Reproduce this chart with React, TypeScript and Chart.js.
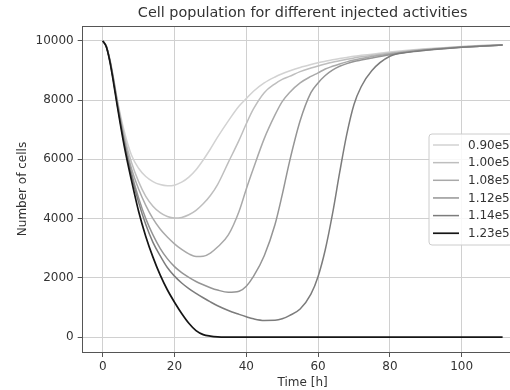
import React, { useEffect, useRef } from "react";
import { Chart, registerables } from "chart.js";

Chart.register(...registerables);

const TITLE = "Cell population for different injected activities";
const X_TITLE = "Time [h]";
const Y_TITLE = "Number of cells";

const TIMES = [0, 1, 2, 3, 4, 6, 8, 10, 12, 14, 16, 18, 20, 22, 24, 26, 28, 30, 32, 35, 38, 40, 42, 45, 48, 50, 52, 55, 58, 60, 62, 64, 66, 68, 70, 72, 75, 80, 85, 90, 95, 100, 105, 111.4];

const LABELS = ["0.90e5", "1.00e5", "1.08e5", "1.12e5", "1.14e5", "1.23e5"];

const S_090 = [10000, 9830, 9390, 8760, 8060, 6950, 6150, 5700, 5420, 5250, 5150, 5110, 5130, 5230, 5400, 5650, 5980, 6350, 6750, 7300, 7800, 8050, 8300, 8580, 8780, 8890, 8980, 9100, 9200, 9260, 9310, 9360, 9400, 9440, 9480, 9510, 9550, 9620, 9680, 9730, 9770, 9810, 9840, 9870];
const S_100 = [10000, 9820, 9360, 8730, 8020, 6800, 5900, 5250, 4750, 4420, 4200, 4070, 4020, 4040, 4130, 4280, 4500, 4780, 5150, 5900, 6650, 7200, 7700, 8250, 8550, 8700, 8800, 8960, 9080, 9150, 9220, 9280, 9330, 9380, 9420, 9460, 9510, 9590, 9660, 9715, 9760, 9800, 9830, 9865];
const S_108 = [10000, 9815, 9340, 8700, 7980, 6700, 5700, 5000, 4450, 4000, 3650, 3380, 3150, 2960, 2810, 2720, 2730, 2840, 3040, 3450, 4250, 5000, 5700, 6700, 7500, 7950, 8250, 8580, 8800, 8920, 9050, 9140, 9220, 9290, 9350, 9400, 9470, 9560, 9640, 9700, 9750, 9790, 9825, 9860];
const S_112 = [10000, 9810, 9330, 8680, 7950, 6620, 5550, 4700, 4000, 3450, 3000, 2650, 2380, 2180, 2020, 1880, 1770, 1670, 1590, 1515, 1550, 1720, 2050, 2750, 3800, 4800, 5900, 7300, 8250, 8580, 8830, 9010, 9140, 9230, 9300, 9350, 9420, 9530, 9625, 9690, 9740, 9785, 9820, 9858];
const S_114 = [10000, 9810, 9320, 8650, 7900, 6550, 5450, 4550, 3800, 3200, 2750, 2350, 2060, 1830, 1640, 1480, 1330, 1190, 1060, 900, 770, 690, 620, 565, 570, 620, 730, 950, 1450, 2050, 2950, 4150, 5550, 6850, 7850, 8450, 9000, 9480, 9610, 9680, 9735, 9780, 9815, 9855];
const S_123 = [10000, 9800, 9300, 8600, 7850, 6450, 5300, 4250, 3400, 2700, 2100, 1600, 1180, 800, 470, 220, 85, 35, 12, 3, 1, 0, 0, 0, 0, 0, 0, 0, 0, 0, 0, 0, 0, 0, 0, 0, 0, 0, 0, 0, 0, 0, 0, 0];

const SERIES = [S_090, S_100, S_108, S_112, S_114, S_123];
const COLORS = ["#d2d2d2", "#bebebe", "#a9a9a9", "#959595", "#7c7c7c", "#151515"];
const WIDTHS = [1.5, 1.5, 1.5, 1.5, 1.5, 1.7];

const X_TICKS = [0, 20, 40, 60, 80, 100];
const Y_TICKS = [0, 2000, 4000, 6000, 8000, 10000];

const FONT = "'DejaVu Sans', sans-serif";
const TEXT = "#333333";
const SPINE = "#555555";
const GRID = "#d0d0d0";

const overlay = {
  id: "overlay",
  afterDraw(chart: any) {
    const { ctx, chartArea } = chart;
    ctx.save();
    // top spine
    ctx.strokeStyle = SPINE;
    ctx.lineWidth = 1;
    ctx.beginPath();
    ctx.moveTo(chartArea.left, Math.round(chartArea.top) + 0.5);
    ctx.lineTo(chartArea.right, Math.round(chartArea.top) + 0.5);
    ctx.stroke();
    // title
    ctx.fillStyle = TEXT;
    ctx.font = `14.4px ${FONT}`;
    ctx.textAlign = "center";
    ctx.textBaseline = "middle";
    ctx.fillText(TITLE, (chartArea.left + chartArea.right) / 2, 13);
    // legend
    const bx = 429, by = 134, bw = 88, bh = 111, r = 3;
    ctx.beginPath();
    ctx.moveTo(bx + r, by);
    ctx.lineTo(bx + bw - r, by);
    ctx.arcTo(bx + bw, by, bx + bw, by + r, r);
    ctx.lineTo(bx + bw, by + bh - r);
    ctx.arcTo(bx + bw, by + bh, bx + bw - r, by + bh, r);
    ctx.lineTo(bx + r, by + bh);
    ctx.arcTo(bx, by + bh, bx, by + bh - r, r);
    ctx.lineTo(bx, by + r);
    ctx.arcTo(bx, by, bx + r, by, r);
    ctx.closePath();
    ctx.fillStyle = "rgba(255,255,255,0.85)";
    ctx.fill();
    ctx.strokeStyle = "#cccccc";
    ctx.stroke();
    ctx.font = `12px ${FONT}`;
    ctx.textAlign = "left";
    ctx.textBaseline = "middle";
    chart.data.datasets.forEach((ds: any, i: number) => {
      const y = 145 + i * 17.65;
      ctx.strokeStyle = ds.borderColor;
      ctx.lineWidth = ds.borderWidth;
      ctx.beginPath();
      ctx.moveTo(433, y);
      ctx.lineTo(459, y);
      ctx.stroke();
      ctx.fillStyle = TEXT;
      ctx.fillText(ds.label, 468, y + 0.5);
    });
    ctx.restore();
  },
};

export default function App() {
  const ref = useRef<HTMLCanvasElement | null>(null);
  useEffect(() => {
    if (!ref.current) return;
    const datasets = SERIES.map((s, i) => ({
      label: LABELS[i],
      data: TIMES.map((t, j) => ({ x: t, y: s[j] })),
      borderColor: COLORS[i],
      backgroundColor: COLORS[i],
      borderWidth: WIDTHS[i],
      pointRadius: 0,
      fill: false,
      cubicInterpolationMode: "monotone" as const,
      order: SERIES.length - 1 - i,
    }));
    const chart = new Chart(ref.current, {
      type: "line",
      data: { datasets },
      plugins: [overlay],
      options: {
        animation: false,
        responsive: true,
        maintainAspectRatio: false,
        layout: { padding: { left: 0, right: 7.4, top: 26, bottom: 0 } },
        plugins: {
          legend: { display: false },
          title: { display: false },
          tooltip: { enabled: false },
        },
        scales: {
          x: {
            type: "linear",
            min: -5.57,
            max: 116.97,
            afterBuildTicks: (scale: any) => {
              scale.ticks = X_TICKS.map((v) => ({ value: v }));
            },
            afterFit: (scale: any) => {
              scale.height = 38;
            },
            grid: { color: GRID, lineWidth: 1, tickColor: SPINE, tickLength: 5 },
            border: { color: SPINE, width: 1 },
            ticks: {
              color: TEXT,
              font: { family: FONT, size: 12 },
              padding: 3,
              autoSkip: false,
              maxRotation: 0,
              callback: (v: any) => `${v}`,
            },
            title: {
              display: true,
              text: X_TITLE,
              color: TEXT,
              font: { family: FONT, size: 12 },
              padding: { top: 0, bottom: 0 },
            },
          },
          y: {
            type: "linear",
            min: -500,
            max: 10500,
            afterBuildTicks: (scale: any) => {
              scale.ticks = Y_TICKS.map((v) => ({ value: v }));
            },
            afterFit: (scale: any) => {
              scale.width = 82.7;
            },
            grid: { color: GRID, lineWidth: 1, tickColor: SPINE, tickLength: 5 },
            border: { color: SPINE, width: 1 },
            ticks: {
              color: TEXT,
              font: { family: FONT, size: 12 },
              padding: 4,
              autoSkip: false,
              callback: (v: any) => `${v}`,
            },
            title: {
              display: true,
              text: Y_TITLE,
              color: TEXT,
              font: { family: FONT, size: 12 },
              padding: { top: 16, bottom: 0 },
            },
          },
        },
      },
    });
    return () => chart.destroy();
  }, []);
  return (
    <div style={{ position: "fixed", left: 0, top: 0, width: 510, height: 390, overflow: "hidden", background: "#fff" }}>
      <div style={{ position: "relative", width: 530, height: 390 }}>
        <canvas ref={ref} />
      </div>
    </div>
  );
}
